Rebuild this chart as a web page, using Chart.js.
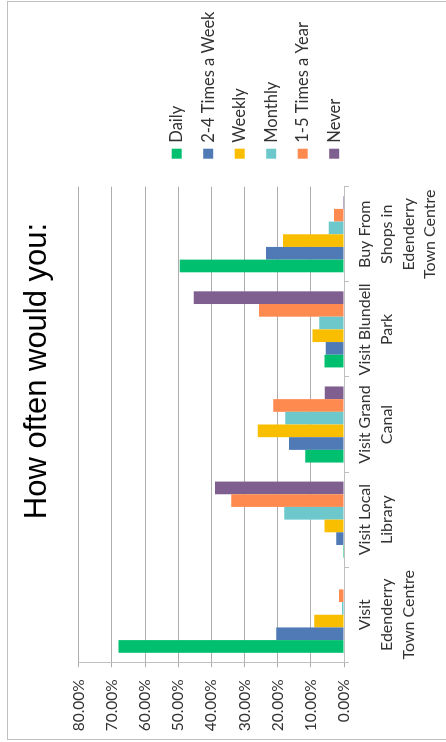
<!DOCTYPE html>
<html>
<head>
<meta charset="utf-8">
<title>How often would you:</title>
<script src="https://cdn.jsdelivr.net/npm/chart.js@4.4.0/dist/chart.umd.min.js"></script>
<style>
  html, body { margin: 0; padding: 0; background: #fff; overflow: hidden; }
  body { width: 446px; height: 742px; position: relative; }
  /* chart is laid out landscape and turned a quarter to the left */
  #wrap { position: absolute; left: 0; top: 0; width: 742px; height: 446px;
          transform-origin: 0 0; transform: translate(0, 742px) rotate(-90deg); }
</style>
</head>
<body>
<div id="wrap"><canvas id="chart" width="742" height="446"></canvas></div>
<script>
const categories = [
  ['Visit', 'Edenderry', 'Town Centre'],
  ['Visit Local', 'Library'],
  ['Visit Grand', 'Canal'],
  ['Visit Blundell', 'Park'],
  ['Buy From', 'Shops in', 'Edenderry', 'Town Centre']
];
const seriesNames = ['Daily', '2-4 Times a Week', 'Weekly', 'Monthly', '1-5 Times a Year', 'Never'];
const seriesColors = ['#00BF6F', '#4F7AB5', '#F9BE00', '#6DC8CB', '#FF8A50', '#7F5F8F'];

// percentages per category
const daily         = [68.0,  0.3, 11.7,  5.9, 49.5];
const twoToFourWeek = [20.4,  2.3, 16.6,  5.5, 23.5];
const weekly        = [ 9.0,  5.9, 26.0,  9.5, 18.4];
const monthly       = [ 0.6, 18.0, 17.7,  7.5,  4.6];
const oneToFiveYear = [ 1.5, 34.0, 21.3, 25.6,  3.0];
const never         = [ 0.0, 38.9,  5.8, 45.3,  0.3];
const series = [daily, twoToFourWeek, weekly, monthly, oneToFiveYear, never];

const axisMax = 80;
const axisStep = 10;

const txt = '#333333';
const lineGrey = '#BFBFBF';

const frameAndLegend = {
  id: 'frameAndLegend',
  afterLayout(chart) {
    // title spans the whole canvas, legend column included
    const t = chart.titleBlock;
    t.left = 0; t.right = chart.width; t.width = chart.width;
  },
  beforeDraw(chart) {
    const ctx = chart.ctx;
    ctx.save();
    ctx.strokeStyle = lineGrey;
    ctx.lineWidth = 1;
    ctx.strokeRect(2.5, 7.5, 738, 460);
    ctx.restore();
  },
  afterDraw(chart) {
    const ctx = chart.ctx;
    const x = chart.chartArea.right + 28;
    ctx.save();
    ctx.font = '16.5px Lato';
    ctx.textBaseline = 'middle';
    chart.data.datasets.forEach((ds, i) => {
      const y = 176.7 + i * 31.5;
      ctx.fillStyle = ds.backgroundColor;
      ctx.fillRect(x, y - 5, 10, 10);
      ctx.fillStyle = txt;
      ctx.fillText(ds.label, x + 16, y);
    });
    ctx.restore();
  }
};

new Chart(document.getElementById('chart'), {
  type: 'bar',
  data: {
    labels: categories,
    datasets: seriesNames.map((name, i) => ({
      label: name,
      data: series[i],
      backgroundColor: seriesColors[i],
      borderWidth: 0,
      categoryPercentage: 0.8,
      barPercentage: 1.0
    }))
  },
  options: {
    responsive: false,
    animation: false,
    layout: { padding: { right: 186.7 } },
    plugins: {
      legend: { display: false },
      tooltip: { enabled: false },
      title: {
        display: true,
        text: 'How often would you:',
        color: '#000',
        font: { family: 'Liberation Sans', size: 31, weight: 'normal', lineHeight: 1.2 },
        padding: { top: 18.5, bottom: 23 }
      }
    },
    scales: {
      x: {
        grid: { drawOnChartArea: false, tickLength: 5, color: lineGrey, offset: true },
        border: { color: lineGrey },
        ticks: { color: txt, padding: 5, maxRotation: 0, autoSkip: false,
                 font: { family: 'Lato', size: 16, lineHeight: 1.36 } },
        afterFit(s) { s.height = 102; }
      },
      y: {
        min: 0,
        max: axisMax,
        grid: { color: '#ADADAD', tickLength: 5 },
        border: { color: lineGrey },
        ticks: { stepSize: axisStep, color: txt, padding: 12,
                 font: { family: 'Lato', size: 15.5 },
                 callback: v => v.toFixed(2) + '%' },
        afterFit(s) { s.width = 79.7; }
      }
    }
  },
  plugins: [frameAndLegend]
});
</script>
</body>
</html>
